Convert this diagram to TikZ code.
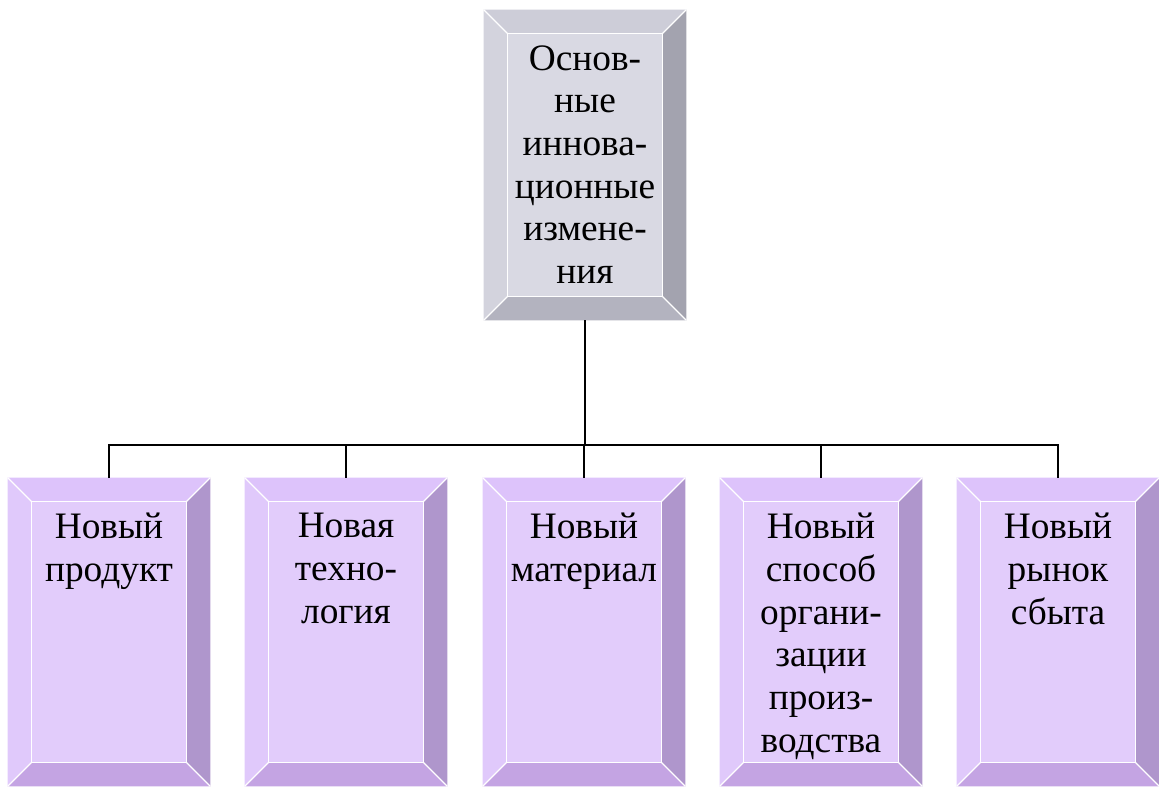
\documentclass[tikz,border=0pt]{standalone}
\usepackage{fontspec}
\setmainfont{Liberation Serif}
\usetikzlibrary{calc,backgrounds}

\definecolor{greyface}{HTML}{D9D9E3}
\definecolor{greytop}{HTML}{CDCDD8}
\definecolor{greyleft}{HTML}{D3D3DD}
\definecolor{greyright}{HTML}{A3A3AF}
\definecolor{greybottom}{HTML}{B3B3BF}
\definecolor{lilacface}{HTML}{E2CCFB}
\definecolor{lilactop}{HTML}{DDC3FB}
\definecolor{lilacleft}{HTML}{E0C9FB}
\definecolor{lilacright}{HTML}{AF96CC}
\definecolor{lilacbottom}{HTML}{C4A4E3}

\tikzset{
  box/.style={rectangle,inner sep=0pt,font=\fontsize{28}{32}\selectfont},
  link/.style={draw=black,line width=1.2pt}
}
% text of a box, set from its top edge
\newcommand{\boxtext}[2]{\parbox[c][#1][t]{151.5pt}{\centering\vspace*{26.5pt}#2}}
% bevelled frame round a node: #1 node, #2 colour prefix
\newcommand{\bevel}[2]{%
  \coordinate (inw) at ($(#1.north west)+(18pt,-18pt)$);
  \coordinate (ine) at ($(#1.north east)+(-18pt,-18pt)$);
  \coordinate (ise) at ($(#1.south east)+(-18pt,18pt)$);
  \coordinate (isw) at ($(#1.south west)+(18pt,18pt)$);
  \fill[#2face] (inw) rectangle (ise);
  \fill[#2top] (#1.north west) -- (#1.north east) -- (ine) -- (inw) -- cycle;
  \fill[#2right] (#1.north east) -- (#1.south east) -- (ise) -- (ine) -- cycle;
  \fill[#2bottom] (#1.south east) -- (#1.south west) -- (isw) -- (ise) -- cycle;
  \fill[#2left] (#1.south west) -- (#1.north west) -- (inw) -- (isw) -- cycle;
  \draw[white,line width=1pt] (inw) rectangle (ise);
  \draw[white,line width=1pt] (#1.north west) -- (inw) (#1.north east) -- (ine)
    (#1.south east) -- (ise) (#1.south west) -- (isw);
}

\begin{document}
\begin{tikzpicture}[x=0.75pt,y=-0.75pt]
  \useasboundingbox (0,0) rectangle (1159,786);

  \node[box] (main) at (585,165) {\boxtext{232.5pt}{Основ-\\ные\\иннова-\\ционные\\измене-\\ния}};

  \node[box] (prod) at (109,632) {\boxtext{231pt}{Новый\\продукт}};
  \node[box] (tech) at (346,632) {\boxtext{231pt}{Новая\\техно-\\логия}};
  \node[box] (mat)  at (584,632) {\boxtext{231pt}{Новый\\материал}};
  \node[box] (org)  at (821,632) {\boxtext{231pt}{Новый\\способ\\органи-\\зации\\произ-\\водства}};
  \node[box] (mkt)  at (1058,632) {\boxtext{231pt}{Новый\\рынок\\сбыта}};

  \begin{scope}[on background layer]
    \bevel{main}{grey}
    \foreach \n in {prod,tech,mat,org,mkt}
      {\bevel{\n}{lilac}}
  \end{scope}

  \coordinate (bus) at (585,445);
  \foreach \n in {prod,tech,mat,org,mkt}
    \path[link] (main.south) -- (main.south |- bus) -| (\n.north);
\end{tikzpicture}
\end{document}
